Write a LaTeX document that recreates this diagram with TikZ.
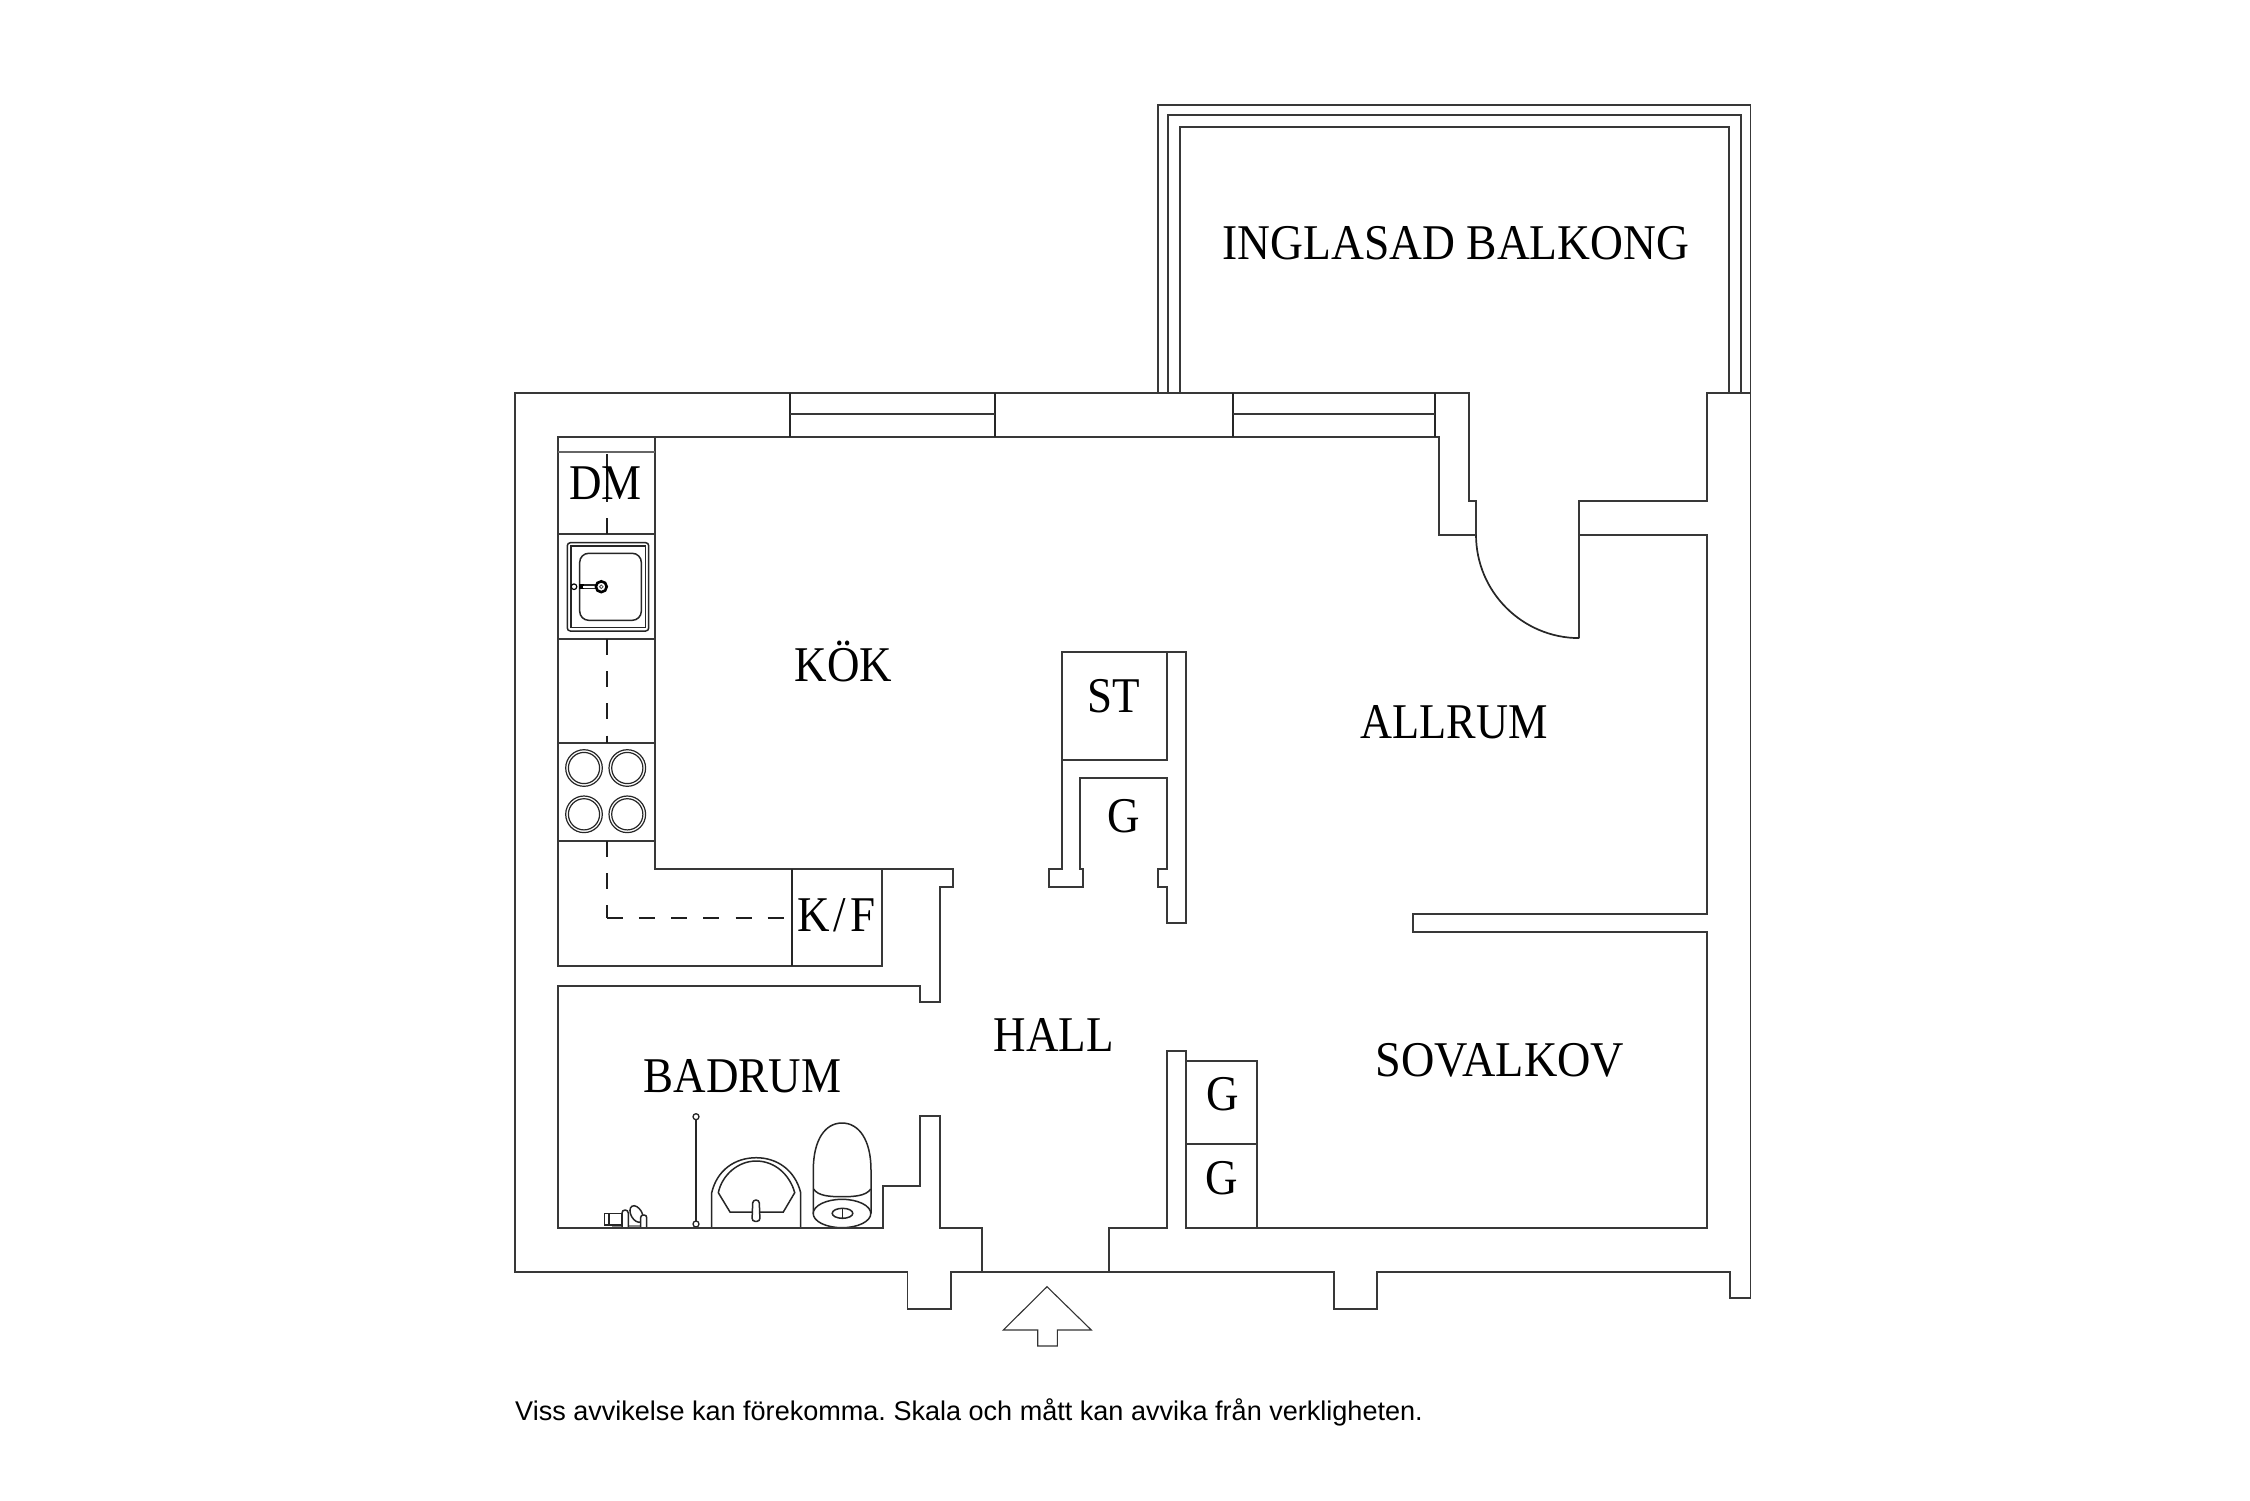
\documentclass[tikz,border=0pt]{standalone}
\usepackage{fontspec}
\setmainfont{Liberation Serif}
\newfontfamily\planfont[FakeStretch=0.9]{Liberation Serif}
\newfontfamily\notefont{Liberation Sans}
\tikzset{
  wall/.style={draw=black!78,line width=1.8pt,line join=miter},
  fine/.style={draw=black!85,line width=1.7pt},
  fixture/.style={draw=black!85,line width=1.5pt,fill=white},
  pipe/.style={draw=black!88,line width=1.7pt,dash pattern=on 16pt off 16.2pt},
  roomlabel/.style={anchor=base,inner sep=0pt,transform shape,font=\planfont\fontsize{50}{50}\selectfont},
  notelabel/.style={anchor=base west,inner sep=0pt,font=\notefont\fontsize{27.05}{28}\selectfont}
}
\begin{document}
\frenchspacing
\begin{tikzpicture}[x=1pt,y=-1pt]
\useasboundingbox (0,0) rectangle (2250,1500);
\fill[white] (0,0) rectangle (2250,1500);

% balcony
\draw[wall] (1158,392.7)--(1158,104.7)--(1750.5,104.7)--(1750.5,392.7);
\draw[wall] (1167.7,392.7)--(1167.7,114.7)--(1740.7,114.7)--(1740.7,392.7);
\draw[wall] (1180,392.7)--(1180,126.7)--(1729,126.7)--(1729,392.7);

% outer wall with balcony door
\draw[wall] (1476,534.7)--(1476,501)--(1468.7,501)--(1468.7,392.7)--(514.7,392.7)--(514.7,1271.7)
  --(907.5,1271.7)--(907.5,1308.7)--(950.7,1308.7)--(950.7,1271.7)--(1334,1271.7)--(1334,1309)
  --(1377.3,1309)--(1377.3,1271.7)--(1730.3,1271.7)--(1730.3,1298)--(1750.5,1298)--(1750.5,392.7)
  --(1706.7,392.7)--(1706.7,501)--(1579.3,501)--(1579.3,638.3);
\draw[fine] (1476,534.7) arc[start angle=180,end angle=90,radius=103.4];

% kitchen
\draw[wall] (1476,534.7)--(1439.3,534.7)--(1439.3,436.7)--(558.3,436.7)--(558.3,966)--(882.3,966)--(882.3,869);
\draw[wall] (655.3,436.7)--(655.3,869)--(953.3,869)--(953.3,887)--(939.7,887)--(939.7,1002)--(920,1002)
  --(920,985.7)--(558.3,985.7)--(558.3,1227.7)--(882.7,1227.7)--(882.7,1186)--(920,1186)--(920,1116.3)
  --(939.7,1116.3)--(939.7,1227.7)--(981.7,1227.7)--(981.7,1271.7);
\draw[fine] (791.7,869)--(791.7,966);
\draw[draw=black!60,line width=2.6pt] (558.3,452)--(655.3,452);
\draw[wall] (558.3,533.7)--(655.3,533.7);
\draw[wall] (558.3,639)--(655.3,639);
\draw[wall] (558.3,743.3)--(655.3,743.3);
\draw[wall] (558.3,841)--(655.3,841);

% windows
\draw[fine] (790.3,392.7)--(790.3,436.7);
\draw[fine] (995,392.7)--(995,436.7);
\draw[wall] (790.3,414.3)--(995,414.3);
\draw[fine] (1233.3,392.7)--(1233.3,436.7);
\draw[fine] (1435.3,392.7)--(1435.3,436.7);
\draw[wall] (1233.3,414.3)--(1435.3,414.3);

% inner partitions
\draw[wall] (1109,1271.7)--(1109,1228)--(1167,1228)--(1167,1051)--(1185.7,1051)--(1185.7,1228)--(1707,1228)
  --(1707,931.7)--(1413.3,931.7)--(1413.3,913.7)--(1707,913.7)--(1707,534.7)--(1579.3,534.7);
\draw[wall] (1185.7,1060.7)--(1257,1060.7)--(1257,1228);
\draw[wall] (1185.7,1144.3)--(1257,1144.3);

% central block
\draw[wall] (1062.3,759.7)--(1062.3,651.7)--(1185.7,651.7)--(1185.7,923)--(1167,923)--(1167,887.3)--(1158,887.3)
  --(1158,868.7)--(1167,868.7)--(1167,778.3)--(1080.3,778.3)--(1080.3,868.7)--(1082.7,868.7)--(1082.7,887.3)
  --(1049.3,887.3)--(1049.3,868.7)--(1062.3,868.7)--(1062.3,759.7)--(1167,759.7)--(1167,651.7);

% pipes
\draw[pipe] (606.7,454)--(606.7,533.7);
\draw[pipe] (606.7,639)--(606.7,743.3);
\draw[pipe] (606.7,841)--(606.7,917.7);
\draw[pipe] (606.7,917.7)--(785.3,917.7);

% sink
\draw[fixture,rounded corners=3pt] (567.3,542.7) rectangle (648.7,631);
\draw[fixture,line width=1.2pt] (571,546) rectangle (645.3,627.7);
\draw[fixture,rounded corners=9pt] (579.7,553.3) rectangle (641.3,620.3);
\draw[draw=black,line width=4.5pt] (579,586.7)--(584,586.7);
\draw[draw=black!85,line width=4.5pt] (584,586.7)--(600,586.7);
\draw[draw=white,line width=1.8pt] (583,586.7)--(600,586.7);
\draw[draw=black,line width=2.6pt,fill=white] (601.3,586.7) circle[radius=5.4];
\draw[draw=black!70,line width=0.8pt,fill=white] (601.3,586.7) circle[radius=1.8];
\draw[draw=black,line width=1.2pt,fill=white] (574,586.7) circle[radius=2.8];

% hob
\foreach \hx in {584,627.3}{\foreach \hy in {768,814.3}{
  \draw[fine,line width=1.2pt] (\hx,\hy) circle[radius=18.3];
  \draw[fine,line width=1.2pt] (\hx,\hy) circle[radius=15.6];
}}

% shower
\draw[draw=black!85,line width=2.4pt] (696,1116.7)--(696,1224);
\draw[fixture,line width=1.3pt] (696,1116.7) circle[radius=3];
\draw[fixture,line width=1.3pt] (696,1224) circle[radius=3];

% washbasin
\draw[fixture,fill=none] (711.7,1227.7)--(711.7,1192.7) .. controls (717,1170) and (735,1157.7) .. (756.2,1157.7)
  .. controls (777,1157.7) and (795,1170) .. (800.7,1192.7)--(800.7,1227.7);
\draw[fixture,fill=none] (730,1212)--(718.3,1192.7) .. controls (722,1175) and (738,1161) .. (756.2,1161)
  .. controls (775,1161) and (790,1175) .. (794.7,1192.7)--(783.3,1212)--cycle;
\draw[fixture,rounded corners=3pt] (752,1221.3)--(752.8,1200)--(759.2,1200)--(760,1221.3)--cycle;

% toilet
\draw[fixture,fill=none] (813.3,1213.3)--(813.3,1170) .. controls (813.3,1140) and (825,1123) .. (842,1123)
  .. controls (859,1123) and (871,1140) .. (871,1170)--(871,1213.3);
\draw[fixture,fill=none] (813.6,1189) .. controls (818,1196) and (830,1196.7) .. (842,1196.7)
  .. controls (854,1196.7) and (866,1196) .. (870.7,1189);
\draw[fixture] (842,1213.5) ellipse[x radius=28.8,y radius=14.2];
\draw[fixture] (842.5,1213.3) ellipse[x radius=10.3,y radius=5];
\draw[fine,line width=1.2pt] (842.5,1208.3)--(842.5,1218.3);

% bath tap
\fill[black!45] (612,1224.5) rectangle (641,1227.7);
\draw[fixture,line width=1.4pt] (604.3,1213.3) rectangle (621.7,1225);
\draw[fine,line width=1.6pt] (609,1213.3)--(609,1225);
\draw[fixture,rounded corners=3pt] (622,1227.7)--(622,1210)--(628.3,1210)--(628.3,1227.7);
\draw[fixture,rotate around={-60:(636.5,1214)}] (636.5,1214) ellipse[x radius=9,y radius=5.5];
\draw[fixture,rounded corners=2.5pt] (640.7,1227.7)--(640.7,1215)--(646.7,1215)--(646.7,1227.7);
\draw[wall] (558.3,1227.7)--(882.7,1227.7);

% entrance arrow
\draw[draw=black!80,line width=1.1pt] (1047,1286.7)--(1091.3,1330)--(1057.3,1330)--(1057.3,1346)--(1037.7,1346)
  --(1037.7,1330)--(1003.3,1330)--cycle;

% labels
\node[roomlabel,xscale=1.012] (balkong) at (1456,259.2) {INGLASAD BALKONG};
\node[roomlabel] (dm) at (605.3,499.3) {DM};
\node[roomlabel] (kok) at (843.5,681.7) {KÖK};
\node[roomlabel] (kf) at (836.5,931.7) {K\kern3pt/\kern4.5pt F};
\node[roomlabel] (st) at (1113.3,712.7) {ST};
\node[roomlabel] (g1) at (1123.3,832) {G};
\node[roomlabel,xscale=0.985] (allrum) at (1454.2,738.5) {ALLRUM};
\node[roomlabel] (hall) at (1053.7,1051) {HALL};
\node[roomlabel] (badrum) at (742.3,1092.3) {BADRUM};
\node[roomlabel,xscale=1.027] (sovalkov) at (1500,1076.7) {SOVALKOV};
\node[roomlabel] (g2) at (1222.3,1110.7) {G};
\node[roomlabel] (g3) at (1221.8,1194.3) {G};
\node[notelabel] (note) at (515,1420) {Viss avvikelse kan förekomma. Skala och mått kan avvika från verkligheten.};
\end{tikzpicture}
\end{document}
